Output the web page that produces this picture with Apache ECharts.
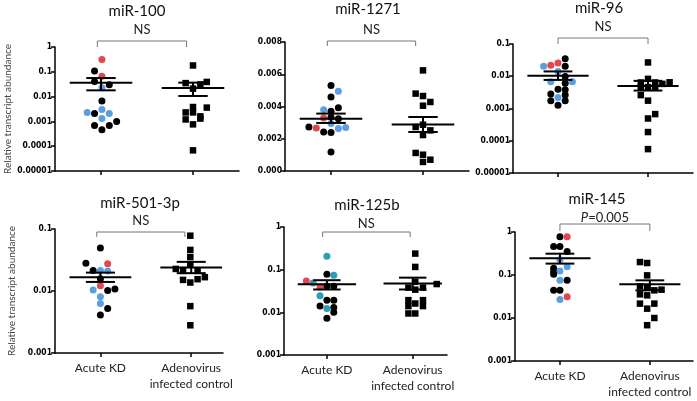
<!DOCTYPE html>
<html>
<head>
<meta charset="utf-8">
<script src="https://cdn.jsdelivr.net/npm/echarts@6/dist/echarts.min.js"></script>
<style>
  html, body { margin: 0; padding: 0; background: #fff; }
  #chart { width: 697px; height: 401px; }
</style>
</head>
<body>
<div id="chart"></div>
<script>
// points are [jitter x, value, colour]  k = black, b = blue, r = red, t = teal
var kd100 = [[1.01,0.31,'r'],[0.93,0.108,'k'],[1.01,0.066,'r'],[0.93,0.041,'k'],[1.09,0.030,'k'],[1.01,0.023,'b'],
  [1.01,0.0067,'k'],[0.85,0.0023,'b'],[0.93,0.0021,'k'],[1.01,0.0030,'b'],[1.09,0.0021,'b'],[1.01,0.0013,'b'],
  [0.93,0.00069,'k'],[1.01,0.00046,'k'],[1.09,0.00069,'k'],[1.17,0.0010,'k']];
var ctl100 = [[2.0,0.18],[1.92,0.035],[2.08,0.031],[2.15,0.039],[2.0,0.021],[2.0,0.0038],[2.15,0.0036],
  [1.92,0.0023],[2.0,0.0023],[2.08,0.0016],[1.92,0.0012],[2.08,0.0013],[2.0,0.00076],[2.0,0.000068]];

var kd1271 = [[1.0,0.00531,'k'],[1.08,0.00494,'b'],[1.0,0.00459,'k'],[0.92,0.00380,'b'],[1.0,0.00370,'k'],
  [1.08,0.00393,'k'],[0.92,0.00329,'r'],[1.0,0.00333,'k'],[1.08,0.00324,'k'],[1.0,0.00294,'b'],[0.76,0.00273,'k'],
  [0.84,0.00267,'r'],[1.08,0.00263,'b'],[1.16,0.00269,'b'],[0.92,0.00242,'k'],[1.0,0.00238,'k'],[1.0,0.00118,'k']];
var ctl1271 = [[2.0,0.00624],[1.92,0.0048],[2.0,0.00465],[2.08,0.00428],[2.0,0.00405],[1.92,0.00273],[2.0,0.00287],
  [2.08,0.00252],[2.0,0.00223],[1.92,0.00112],[2.0,0.00101],[2.08,0.0007],[2.0,0.00056]];

var kd96 = [[1.08,0.0349,'k'],[1.08,0.0206,'k'],[0.84,0.0206,'b'],[0.92,0.0221,'r'],[1.0,0.0256,'r'],[1.0,0.0141,'b'],
  [1.08,0.0098,'k'],[0.92,0.0067,'b'],[1.16,0.0067,'b'],[1.08,0.0061,'k'],[1.0,0.00396,'k'],[1.08,0.0038,'k'],
  [0.92,0.0028,'k'],[1.08,0.0026,'k'],[1.0,0.0022,'b'],[0.92,0.00175,'k'],[1.08,0.00175,'k'],[1.0,0.00126,'k']];
var ctl96 = [[2.0,0.0268],[2.0,0.0083],[1.92,0.0064],[2.08,0.0064],[2.24,0.0065],[2.16,0.0058],[2.0,0.0046],
  [1.92,0.0045],[2.08,0.0046],[1.92,0.0026],[2.0,0.00175],[2.08,0.00067],[2.0,0.00049],[2.0,0.000186],[2.0,0.000055]];

var kd501 = [[1.0,0.0492,'k'],[0.84,0.0281,'k'],[1.08,0.0274,'r'],[0.92,0.0214,'k'],[1.0,0.0214,'b'],[1.08,0.0211,'b'],
  [1.0,0.0157,'k'],[1.0,0.0121,'r'],[0.92,0.0104,'b'],[1.08,0.0102,'k'],[1.16,0.0108,'k'],[1.0,0.0081,'b'],
  [1.0,0.0063,'b'],[1.08,0.0052,'k'],[1.0,0.0041,'k']];
var ctl501 = [[1.99,0.078],[1.99,0.046],[1.99,0.0352],[1.99,0.0264],[1.83,0.0227],[1.91,0.0211],[2.07,0.0211],
  [2.15,0.0167],[1.91,0.0151],[2.07,0.0155],[1.99,0.0137],[1.99,0.0057],[1.99,0.0028]];

var kd125b = [[1.0,0.206,'t'],[1.0,0.078,'k'],[1.08,0.074,'t'],[0.76,0.054,'r'],[0.84,0.049,'t'],[0.92,0.0395,'r'],
  [1.0,0.041,'k'],[1.08,0.041,'k'],[0.92,0.0244,'t'],[1.0,0.0193,'k'],[1.08,0.0193,'k'],[0.92,0.014,'k'],
  [1.08,0.013,'k'],[1.0,0.0123,'t'],[1.08,0.010,'k'],[1.0,0.0073,'k']];
var ctl125b = [[2.03,0.238],[2.03,0.116],[2.03,0.052],[1.95,0.038],[2.12,0.038],[2.28,0.046],[2.03,0.034],
  [1.95,0.0193],[2.12,0.0193],[1.95,0.014],[2.12,0.014],[2.03,0.0161],[1.95,0.0094],[2.03,0.0094]];

var kd145 = [[1.0,0.78,'k'],[1.08,0.78,'r'],[0.93,0.46,'k'],[1.0,0.46,'k'],[1.08,0.35,'k'],[1.0,0.227,'b'],
  [1.08,0.156,'b'],[0.93,0.143,'k'],[0.93,0.12,'k'],[1.0,0.124,'b'],[0.93,0.104,'k'],[1.0,0.075,'b'],
  [1.08,0.075,'k'],[0.93,0.044,'k'],[1.0,0.044,'k'],[1.0,0.027,'b'],[1.08,0.031,'r']];
var ctl145 = [[1.89,0.2],[1.97,0.19],[1.97,0.098],[1.89,0.0545],[1.97,0.051],[2.13,0.0456],[2.05,0.044],
  [1.89,0.0355],[1.97,0.0337],[1.89,0.0216],[2.05,0.0216],[1.97,0.0165],[2.05,0.01],[1.97,0.0068]];

// mean and SEM bars per panel
var meanKd   = [0.0365, 0.00324, 0.0103, 0.0167, 0.0457, 0.244];
var semKdHi  = [0.056,  0.00356, 0.0141, 0.0198, 0.0566, 0.313];
var semKdLo  = [0.0179, 0.00298, 0.0077, 0.0140, 0.0343, 0.184];
var meanCtl  = [0.022,  0.00289, 0.00502, 0.0239, 0.0473, 0.0607];
var semCtlHi = [0.0365, 0.00335, 0.0072, 0.0295, 0.065, 0.0751];
var semCtlLo = [0.0106, 0.00242, 0.0036, 0.0194, 0.0343, 0.044];

var titles = ['miR-100', 'miR-1271', 'miR-96', 'miR-501-3p', 'miR-125b', 'miR-145'];
var sigText = ['NS', 'NS', 'NS', 'NS', 'NS', '{i|P}=0.005'];
var groups = ['Acute KD', 'Adenovirus\ninfected control'];
var yName = 'Relative transcript abundance';

var logTicks = ['0.00001', '0.0001', '0.001', '0.01', '0.1', '1'];
var linTicks = ['0.000', '0.002', '0.004', '0.006', '0.008'];
var yMin = [0.00001, 0, 0.00001, 0.001, 0.001, 0.001];
var yMax = [1, 0.008, 0.1, 0.1, 1, 1];

var kdSets = [kd100, kd1271, kd96, kd501, kd125b, kd145];
var ctlSets = [ctl100, ctl1271, ctl96, ctl501, ctl125b, ctl145];

// layout: grid box, x range, bracket [x1, x2, line dy, leg dy, text dy], title pos
var layout = [
  { left: 55,  top: 47,  width: 184, height: 124, xmax: 2.5,  br: [0.96, 1.93, -6, 0, -17], tx: 137, ty: 4 },
  { left: 285, top: 42,  width: 184, height: 129, xmax: 2.5,  br: [0.96, 1.92, -1, 4, -12], tx: 368, ty: 2 },
  { left: 513, top: 44,  width: 180, height: 129, xmax: 2.5,  br: [1.0, 2.0, -6, 0, -17],   tx: 599, ty: 1 },
  { left: 55,  top: 229, width: 168, height: 124, xmax: 2.35, br: [0.96, 1.93, 3, 8, -8],   tx: 140, ty: 196 },
  { left: 284, top: 227, width: 163, height: 128, xmax: 2.4,  br: [0.95, 1.97, 5, 10, -3],  tx: 367, ty: 198 },
  { left: 515, top: 232, width: 178, height: 129, xmax: 2.48, br: [1.0, 2.0, -8, -1, -14],  tx: 597, ty: 192 }
];

var dotColors = { k: '#000000', b: '#5a9fe2', r: '#e2474d', t: '#2a9db8' };
var textFont = 'Lato, "Open Sans", sans-serif';
var tickFont = '"Liberation Sans Narrow", "DejaVu Sans Condensed", sans-serif';

function tickLabel(i) {
  return function (v) {
    if (i === 1) {
      return linTicks[Math.round(v / 0.002)] || '';
    }
    var e = Math.round(Math.log10(v));
    for (var k = 0; k < logTicks.length; k++) {
      if (Math.round(Math.log10(+logTicks[k])) === e) return logTicks[k];
    }
    return '';
  };
}

function renderMean(params, api) {
  var x = api.value(0), m = api.value(1), hi = api.value(2), lo = api.value(3);
  var a = api.coord([x - 0.34, m]), b = api.coord([x + 0.34, m]);
  var t = api.coord([x, hi]), u = api.coord([x, lo]);
  var c1 = api.coord([x - 0.16, hi]), c2 = api.coord([x + 0.16, hi]);
  var d1 = api.coord([x - 0.16, lo]), d2 = api.coord([x + 0.16, lo]);
  var st = { stroke: '#000', lineWidth: 2 };
  return {
    type: 'group',
    children: [
      { type: 'line', shape: { x1: a[0], y1: a[1], x2: b[0], y2: b[1] }, style: st },
      { type: 'line', shape: { x1: t[0], y1: t[1], x2: u[0], y2: u[1] }, style: st },
      { type: 'line', shape: { x1: c1[0], y1: c1[1], x2: c2[0], y2: c2[1] }, style: st },
      { type: 'line', shape: { x1: d1[0], y1: d1[1], x2: d2[0], y2: d2[1] }, style: st }
    ]
  };
}

function bracketRenderer(i) {
  var br = layout[i].br;
  return function (params, api) {
    var top = params.coordSys.y;
    var xa = api.coord([br[0], yMax[i]])[0];
    var xb = api.coord([br[1], yMax[i]])[0];
    var yl = top + br[2], yg = top + br[3];
    return {
      type: 'group',
      children: [
        { type: 'polyline', shape: { points: [[xa, yg], [xa, yl], [xb, yl], [xb, yg]] },
          style: { stroke: '#777', lineWidth: 1, fill: null } },
        { type: 'text', style: {
            text: sigText[i], x: (xa + xb) / 2, y: top + br[4], align: 'center', verticalAlign: 'middle',
            fontFamily: textFont, fontSize: 13, fill: '#222',
            rich: { i: { fontStyle: 'italic', fontFamily: textFont, fontSize: 13, fill: '#222' } }
        } }
      ]
    };
  };
}

var grid = [], xAxis = [], yAxis = [], series = [], title = [];

layout.forEach(function (L, i) {
  var bottomRow = i >= 3;
  grid.push({ left: L.left, top: L.top, width: L.width, height: L.height });
  title.push({
    text: titles[i], left: L.tx, top: L.ty, textAlign: 'center', padding: 0,
    textStyle: { fontFamily: textFont, fontSize: 15, fontWeight: 'normal', color: '#111' }
  });
  xAxis.push({
    type: 'value', gridIndex: i, min: 0.5, max: L.xmax,
    axisLine: { lineStyle: { color: '#000', width: 1.5 } },
    axisTick: { show: true, customValues: [1, 2], length: 4, lineStyle: { color: '#000', width: 1.5 } },
    axisLabel: {
      show: bottomRow, customValues: [1, 2], margin: 7,
      formatter: function (v) { return Math.round(v) === 1 ? groups[0] : groups[1]; },
      fontFamily: textFont, fontSize: 12, lineHeight: 16, color: '#222'
    },
    splitLine: { show: false }
  });
  var ya = {
    type: i === 1 ? 'value' : 'log', gridIndex: i, min: yMin[i], max: yMax[i],
    axisLine: { show: true, lineStyle: { color: '#000', width: 1.5 } },
    axisTick: { show: true, length: 4, lineStyle: { color: '#000', width: 1.5 } },
    axisLabel: { formatter: tickLabel(i), fontFamily: tickFont, fontSize: 8.5, fontWeight: 'bold', color: '#000', margin: 3 },
    splitLine: { show: false }
  };
  if (i === 1) ya.interval = 0.002;
  if (i === 0 || i === 3) {
    ya.name = yName;
    ya.nameLocation = 'middle';
    ya.nameGap = 38;
    ya.nameTextStyle = { fontFamily: textFont, fontSize: 10, color: '#444' };
  }
  yAxis.push(ya);

  series.push({
    type: 'scatter', xAxisIndex: i, yAxisIndex: i, data: kdSets[i], symbol: 'circle', symbolSize: 7,
    itemStyle: { color: function (p) { return dotColors[p.data[2]]; }, opacity: 1 }, z: 2, silent: true
  });
  series.push({
    type: 'scatter', xAxisIndex: i, yAxisIndex: i, data: ctlSets[i], symbol: 'rect', symbolSize: 6.5,
    itemStyle: { color: '#000', opacity: 1 }, z: 2, silent: true
  });
  series.push({
    type: 'custom', xAxisIndex: i, yAxisIndex: i, renderItem: renderMean, z: 4, silent: true, clip: false,
    data: [[1, meanKd[i], semKdHi[i], semKdLo[i]], [2, meanCtl[i], semCtlHi[i], semCtlLo[i]]]
  });
  series.push({
    type: 'custom', xAxisIndex: i, yAxisIndex: i, renderItem: bracketRenderer(i), z: 4, silent: true, clip: false,
    data: [[1, yMax[i]]]
  });
});

var chart = echarts.init(document.getElementById('chart'));
chart.setOption({
  animation: false,
  backgroundColor: '#fff',
  title: title,
  grid: grid,
  xAxis: xAxis,
  yAxis: yAxis,
  series: series
});
</script>
</body>
</html>
